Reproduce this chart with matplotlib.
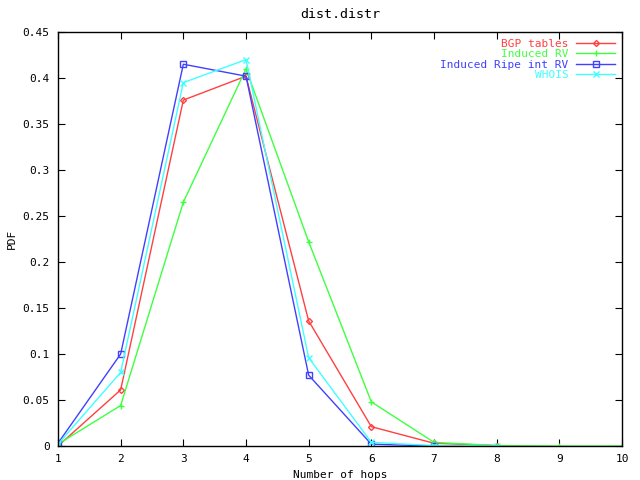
#! /usr/bin/env python3

# PDF of hop-count distribution, gnuplot look.

import matplotlib
matplotlib.use('Agg')
import matplotlib.pyplot as plt

hops = [1, 2, 3, 4, 5, 6, 7, 8, 9, 10]

bgp = [0.0, 0.061, 0.376, 0.402, 0.136, 0.021, 0.003, 0.0005]
induced_rv = [0.002, 0.044, 0.265, 0.410, 0.222, 0.048, 0.004, 0.0005, 0.0, 0.0]
ripe = [0.003, 0.100, 0.415, 0.402, 0.077, 0.002, 0.0]
whois = [0.002, 0.080, 0.395, 0.420, 0.096, 0.004, 0.0005, 0.0]

yticks = [0, 0.05, 0.1, 0.15, 0.2, 0.25, 0.3, 0.35, 0.4, 0.45]
ylabels = ['0', '0.05', '0.1', '0.15', '0.2', '0.25', '0.3', '0.35', '0.4', '0.45']

red = '#ff4040'
green = '#40ff40'
blue = '#4040ff'
cyan = '#40ffff'

plt.rcParams['font.family'] = 'DejaVu Sans Mono'
plt.rcParams['font.size'] = 8

fig = plt.figure(figsize=(6.4, 4.8), dpi=100)
ax = fig.add_axes([0.0906, 0.0708, 0.8813, 0.8625])

ax.plot(hops[:len(bgp)], bgp, color=red, lw=1, marker='D', ms=3, mfc='none', label='BGP tables')
ax.plot(hops[:len(induced_rv)], induced_rv, color=green, lw=1, marker='+', ms=5, label='Induced RV')
ax.plot(hops[:len(ripe)], ripe, color=blue, lw=1, marker='s', ms=4, mfc='none', label='Induced Ripe int RV')
ax.plot(hops[:len(whois)], whois, color=cyan, lw=1, marker='x', ms=4, label='WHOIS')

ax.set_xlim(1, 10)
ax.set_ylim(0, 0.45)
ax.set_xticks(hops)
ax.set_yticks(yticks)
ax.set_yticklabels(ylabels)
ax.tick_params(direction='in', top=True, right=True, length=5, pad=6)
for s in ax.spines.values():
    s.set_linewidth(1)

ax.set_title('dist.distr', pad=10)
ax.set_xlabel('Number of hops')
ax.set_ylabel('PDF')

leg = ax.legend(loc='upper right', frameon=False, markerfirst=False,
                handlelength=3.5, borderaxespad=0.2, labelspacing=0.05,
                handletextpad=0.7)
for txt, c in zip(leg.get_texts(), [red, green, blue, cyan]):
    txt.set_color(c)

plt.savefig('out.png', dpi=100)
